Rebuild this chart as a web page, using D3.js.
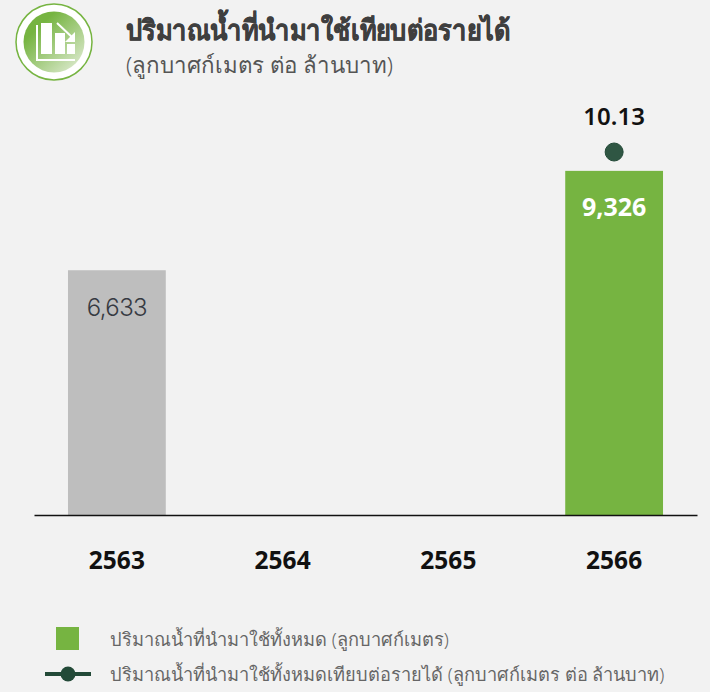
<!DOCTYPE html>
<html>
<head>
<meta charset="utf-8">
<script src="https://cdn.jsdelivr.net/npm/d3@7"></script>
<style>
html, body { margin: 0; padding: 0; background: #f2f2f2; }
svg { display: block; font-family: "Noto Sans", "Open Sans", "DejaVu Sans", sans-serif; }
</style>
</head>
<body>
<div id="chart"></div>
<script>
var years = ['2563', '2564', '2565', '2566'];
var waterTotal = [6633, null, null, 9326];
var waterPerRevenue = [null, null, null, 10.13];
var waterLabels = ['6,633', '', '', '9,326'];
var titleText = 'ปริมาณน้ำที่นำมาใช้เทียบต่อรายได้';
var subtitleText = '(ลูกบาศก์เมตร ต่อ ล้านบาท)';
var legendLabels = ['ปริมาณน้ำที่นำมาใช้ทั้งหมด (ลูกบาศก์เมตร)', 'ปริมาณน้ำที่นำมาใช้ทั้งหมดเทียบต่อรายได้ (ลูกบาศก์เมตร ต่อ ล้านบาท)'];

var width = 710, height = 692;
var baseline = 515;

var svg = d3.select('#chart').append('svg')
    .attr('width', width)
    .attr('height', height);

var x = d3.scaleBand().domain(years).range([34, 697]).paddingInner(0.41).paddingOuter(0.205);
var y = d3.scaleLinear().domain([0, 10000]).range([baseline, baseline - 369]);
var y2 = d3.scaleLinear().domain([0, 12]).range([baseline, baseline - 430]);

// bars
svg.selectAll('.bar').data(years).enter().filter(function(d, i) { return waterTotal[i] != null; })
    .append('rect')
    .attr('class', 'bar')
    .attr('x', function(d) { return x(d); })
    .attr('width', x.bandwidth())
    .attr('y', function(d) { return y(waterTotal[years.indexOf(d)]); })
    .attr('height', function(d) { return baseline - y(waterTotal[years.indexOf(d)]); })
    .attr('fill', function(d) { return d === '2566' ? '#76b441' : '#bebebe'; });

svg.selectAll('.bar-label').data(years).enter().filter(function(d, i) { return waterTotal[i] != null; })
    .append('text')
    .attr('class', 'bar-label')
    .attr('x', function(d) { return x(d) + x.bandwidth() / 2; })
    .attr('y', function(d) { return y(waterTotal[years.indexOf(d)]) + (d === '2566' ? 45 : 46); })
    .attr('text-anchor', 'middle')
    .attr('font-family', function(d) { return d === '2566' ? null : 'Inter, sans-serif'; })
    .attr('font-size', function(d) { return d === '2566' ? 25 : 24; })
    .attr('font-weight', function(d) { return d === '2566' ? 700 : 300; })
    .attr('letter-spacing', function(d) { return d === '2566' ? 0 : -0.6; })
    .attr('fill', function(d) { return d === '2566' ? '#ffffff' : '#363a42'; })
    .text(function(d) { return waterLabels[years.indexOf(d)]; });

// dot and its value
svg.selectAll('.dot').data(years).enter().filter(function(d, i) { return waterPerRevenue[i] != null; })
    .append('circle')
    .attr('class', 'dot')
    .attr('cx', function(d) { return x(d) + x.bandwidth() / 2; })
    .attr('cy', function(d) { return y2(waterPerRevenue[years.indexOf(d)]); })
    .attr('r', 9)
    .attr('fill', '#2f5643')
    .attr('stroke', '#234a38')
    .attr('stroke-width', 1);

svg.selectAll('.dot-label').data(years).enter().filter(function(d, i) { return waterPerRevenue[i] != null; })
    .append('text')
    .attr('class', 'dot-label')
    .attr('x', function(d) { return x(d) + x.bandwidth() / 2; })
    .attr('y', function(d) { return y2(waterPerRevenue[years.indexOf(d)]) - 27; })
    .attr('text-anchor', 'middle')
    .attr('font-size', 24)
    .attr('font-weight', 600)
    .attr('fill', '#111111')
    .text(function(d) { return d3.format('.2f')(waterPerRevenue[years.indexOf(d)]); });

// x axis
var xAxis = svg.append('g')
    .attr('transform', 'translate(0,' + baseline + ')')
    .call(d3.axisBottom(x).tickSize(0).tickPadding(37));
xAxis.select('.domain').attr('stroke', '#111111').attr('stroke-width', 1.3);
xAxis.selectAll('text')
    .attr('font-family', '"Noto Sans", "Open Sans", sans-serif')
    .attr('font-size', 24.5)
    .attr('font-weight', 700)
    .attr('fill', '#111111');

// title
svg.append('text').attr('x', 126).attr('y', 40)
    .attr('font-size', 28).attr('font-weight', 700).attr('fill', '#3f3f3f')
    .attr('stroke', '#3f3f3f').attr('stroke-width', 0.5)
    .attr('textLength', 384).attr('lengthAdjust', 'spacingAndGlyphs')
    .text(titleText);
svg.append('text').attr('x', 126).attr('y', 73)
    .attr('font-size', 22.3).attr('font-weight', 300).attr('fill', '#555555')
    .text(subtitleText);

// icon
var defs = svg.append('defs');
var grad = defs.append('linearGradient').attr('id', 'iconFill')
    .attr('x1', '25%').attr('y1', '25%').attr('x2', '85%').attr('y2', '90%');
grad.append('stop').attr('offset', '0%').attr('stop-color', '#76b441');
grad.append('stop').attr('offset', '100%').attr('stop-color', '#d5e6c4');

var icon = svg.append('g').attr('transform', 'translate(54,42)');
icon.append('circle').attr('r', 38).attr('fill', '#ffffff').attr('stroke', '#76b441').attr('stroke-width', 1.5);
icon.append('circle').attr('r', 30.5).attr('fill', 'url(#iconFill)');
icon.append('path').attr('d', 'M-17,-17V18H21').attr('fill', 'none').attr('stroke', '#ffffff').attr('stroke-width', 2);
icon.append('rect').attr('x', -13).attr('y', -19).attr('width', 11).attr('height', 31).attr('fill', '#ffffff');
icon.append('rect').attr('x', 1).attr('y', -9).attr('width', 10).attr('height', 21).attr('fill', '#ffffff');
icon.append('rect').attr('x', 13).attr('y', 2).attr('width', 8).attr('height', 10).attr('fill', '#ffffff');
icon.append('path').attr('d', 'M3,-19L20,-3').attr('stroke', '#ffffff').attr('stroke-width', 2);
icon.append('path').attr('d', 'M21,-10V0H11Z').attr('fill', '#ffffff');

// legend
svg.append('rect').attr('x', 56).attr('y', 627).attr('width', 23).attr('height', 23).attr('fill', '#76b441');
svg.append('line').attr('x1', 45).attr('x2', 91).attr('y1', 674).attr('y2', 674)
    .attr('stroke', '#234a38').attr('stroke-width', 4);
svg.append('circle').attr('cx', 68).attr('cy', 674).attr('r', 7.5).attr('fill', '#234a38');

svg.selectAll('.legend-label').data(legendLabels).enter().append('text')
    .attr('class', 'legend-label')
    .attr('x', 110)
    .attr('y', function(d, i) { return 646 + i * 35; })
    .attr('font-size', 18.2)
    .attr('font-weight', 300)
    .attr('fill', '#666666')
    .text(function(d) { return d; });
</script>
</body>
</html>
